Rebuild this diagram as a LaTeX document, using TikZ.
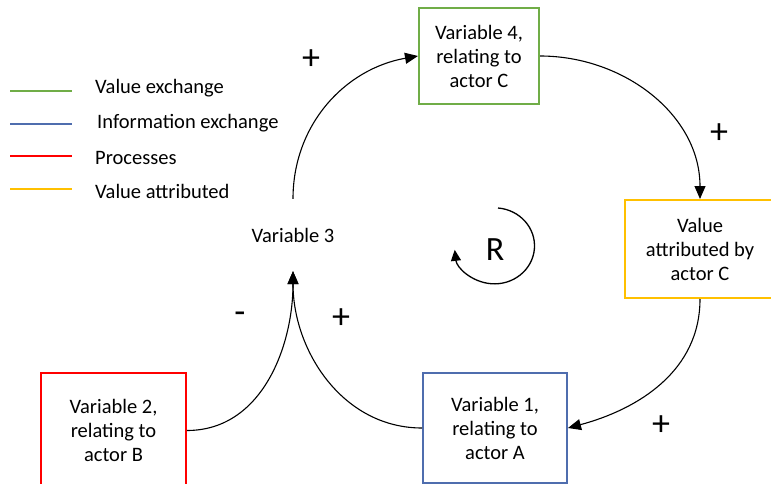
\documentclass[tikz,border=0pt]{standalone}
\usepackage{fontspec}
\setmainfont{Carlito}
\usetikzlibrary{arrows.meta}
\definecolor{cgreen}{HTML}{70AD47}
\definecolor{cblue}{HTML}{4F6DAE}
\definecolor{cred}{HTML}{FF0000}
\definecolor{cyellow}{HTML}{FFC000}
\begin{document}
\begin{tikzpicture}[x=1pt,y=-1pt,
  txt/.style={font=\fontsize{20.5}{24}\selectfont, align=center, inner sep=0pt},
  varbox/.style={txt, draw, line width=2pt, fill=white},
  legline/.style={line width=2pt},
  link/.style={line width=1.1pt, -{Triangle[length=13pt,width=11pt]}},
  sign/.style={font=\fontsize{36}{36}\selectfont, inner sep=0pt}]
\useasboundingbox (0,0) rectangle (771,484);
\clip (0,0) rectangle (771,484);

% legend
\draw[legline, cgreen]  (10,91)  -- (72,91);
\draw[legline, cblue]   (10,124) -- (72,124);
\draw[legline, cred]    (10,156) -- (72,156);
\draw[legline, cyellow] (10,189) -- (72,189);
\node[txt, anchor=west] (lg1) at (95,88)  {Value exchange};
\node[txt, anchor=west] (lg2) at (97,123) {Information exchange};
\node[txt, anchor=west] (lg3) at (95,158) {Processes};
\node[txt, anchor=west] (lg4) at (95,191) {Value attributed};

% variables
\node[varbox, draw=cgreen, minimum width=120pt, minimum height=96pt] (v4) at (479,56)
  {Variable 4,\\relating to\\actor C};
\node[varbox, draw=cyellow, minimum width=150pt, minimum height=98pt] (va) at (700,249)
  {Value\\attributed by\\actor C};
\node[varbox, draw=cblue, minimum width=144pt, minimum height=110pt] (v1) at (495,428)
  {Variable 1,\\relating to\\actor A};
\node[varbox, draw=cred, minimum width=145pt, minimum height=115pt] (v2) at (113.5,430.5)
  {Variable 2,\\relating to\\actor B};
\node[txt, minimum height=72pt] (v3) at (293,235) {Variable 3};

% causal links
\draw[link] (v3.north) to[out=90,in=190] (v4.west);
\draw[link] (v4.east) to[out=0,in=90] (va.north);
\draw[link] (va.south) to[out=-90,in=15] (v1.east);
\draw[link] (v1.west) to[out=180,in=-90] (v3.south);
\draw[link] (v2.east) to[out=0,in=-90] (v3.south);

% polarities
\node[sign] (p1) at (311,60)  {+};
\node[sign] (p2) at (719,134) {+};
\node[sign] (p3) at (661,426) {+};
\node[sign] (p4) at (240,318) {-};
\node[sign] (p5) at (341,319) {+};

% reinforcing loop marker: clockwise arc round the R
\node[font=\fontsize{34}{34}\selectfont, inner sep=0pt] (r) at (495,250) {R};
\coordinate (rs) at (498,208);
\draw[line width=1.3pt, -{Triangle[length=11pt,width=10pt]}]
  (rs) arc[start angle=85, end angle=-174, x radius=40pt, y radius=38pt];
\end{tikzpicture}
\end{document}
